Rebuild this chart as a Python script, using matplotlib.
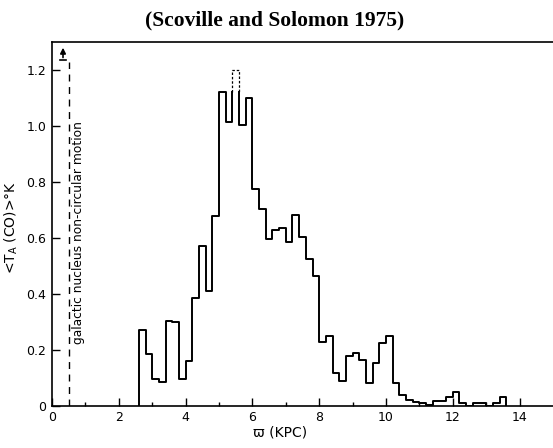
import numpy as np
import matplotlib
matplotlib.use("Agg")
import matplotlib.pyplot as plt

# CO antenna temperature vs galactocentric radius, 0.2 kpc bins from 2.6 kpc
r_start = 2.6
bin_width = 0.2
t_a = [0.27, 0.185, 0.095, 0.085, 0.305, 0.30, 0.095, 0.16, 0.385, 0.57,
       0.41, 0.68, 1.12, 1.015, 1.12, 1.005, 1.10, 0.775, 0.705, 0.595,
       0.628, 0.635, 0.585, 0.682, 0.605, 0.525, 0.465, 0.227, 0.25, 0.119,
       0.089, 0.179, 0.19, 0.164, 0.083, 0.155, 0.226, 0.251, 0.083, 0.039,
       0.021, 0.015, 0.010, 0.004, 0.018, 0.018, 0.033, 0.048, 0.011, 0.0,
       0.010, 0.010, 0.0, 0.010, 0.031]
peak_index = 14        # bin drawn with a dashed top
peak_dashed = 1.20     # dashed upper value of that bin
nucleus_r = 0.5        # non-circular motion limit

xticks = [0, 2, 4, 6, 8, 10, 12, 14]
yticks = [0, 0.2, 0.4, 0.6, 0.8, 1.0, 1.2]
ytick_labels = ['0', '0.2', '0.4', '0.6', '0.8', '1.0', '1.2']

edges = r_start + bin_width * np.arange(len(t_a) + 1)
xs = np.repeat(edges, 2)
ys = np.concatenate([[0], np.repeat(t_a, 2), [0]])

fig = plt.figure(figsize=(5.53, 4.48), dpi=100)
ax = fig.add_axes([0.094, 0.094, 0.906, 0.812])

k = peak_index
ax.plot(xs[:2 * k + 2], ys[:2 * k + 2], color='black', lw=1.4)
ax.plot(xs[2 * k + 2:], ys[2 * k + 2:], color='black', lw=1.4)
ax.plot([edges[k], edges[k], edges[k + 1], edges[k + 1]],
        [t_a[k], peak_dashed, peak_dashed, t_a[k]],
        color='black', lw=0.9, ls=(0, (2, 1.5)))

# galactic nucleus limit
ax.plot([nucleus_r, nucleus_r], [0, 1.23], color='black', lw=1.0,
        ls=(0, (5, 4)))
ax.annotate('', xy=(0.33, 1.29), xytext=(0.33, 1.235),
            arrowprops=dict(arrowstyle='-|>', color='black', lw=1.2,
                            mutation_scale=8))
ax.plot([0.24, 0.42], [1.235, 1.235], color='black', lw=1.2)
ax.text(0.8, 0.62, 'galactic nucleus non-circular motion', rotation=90,
        ha='center', va='center', fontsize=8.8, family='DejaVu Sans')

ax.set_xlim(0, 15)
ax.set_ylim(0, 1.3)
ax.set_xticks(xticks)
ax.set_xticks([1, 3, 5, 7, 9, 11, 13], minor=True)
ax.set_yticks(yticks)
ax.set_yticklabels(ytick_labels)
ax.tick_params(direction='in', length=6, width=1, labelsize=9, pad=4)
ax.tick_params(which='minor', direction='in', length=3, width=1)
ax.spines['right'].set_visible(False)
for s in ['left', 'bottom', 'top']:
    ax.spines[s].set_linewidth(1.2)

ax.set_ylabel(r'<T$_\mathregular{A}$ (CO)>°K', fontsize=10)
ax.yaxis.set_label_coords(-0.064, 0.49)
ax.set_xlabel('ϖ (KPC)', fontsize=10)
ax.xaxis.set_label_coords(0.455, -0.055)

fig.text(0.497, 0.955, '(Scoville and Solomon 1975)', ha='center',
         va='center', fontsize=15.5, family='Liberation Serif',
         weight='bold')

fig.savefig('out.png', dpi=100)
